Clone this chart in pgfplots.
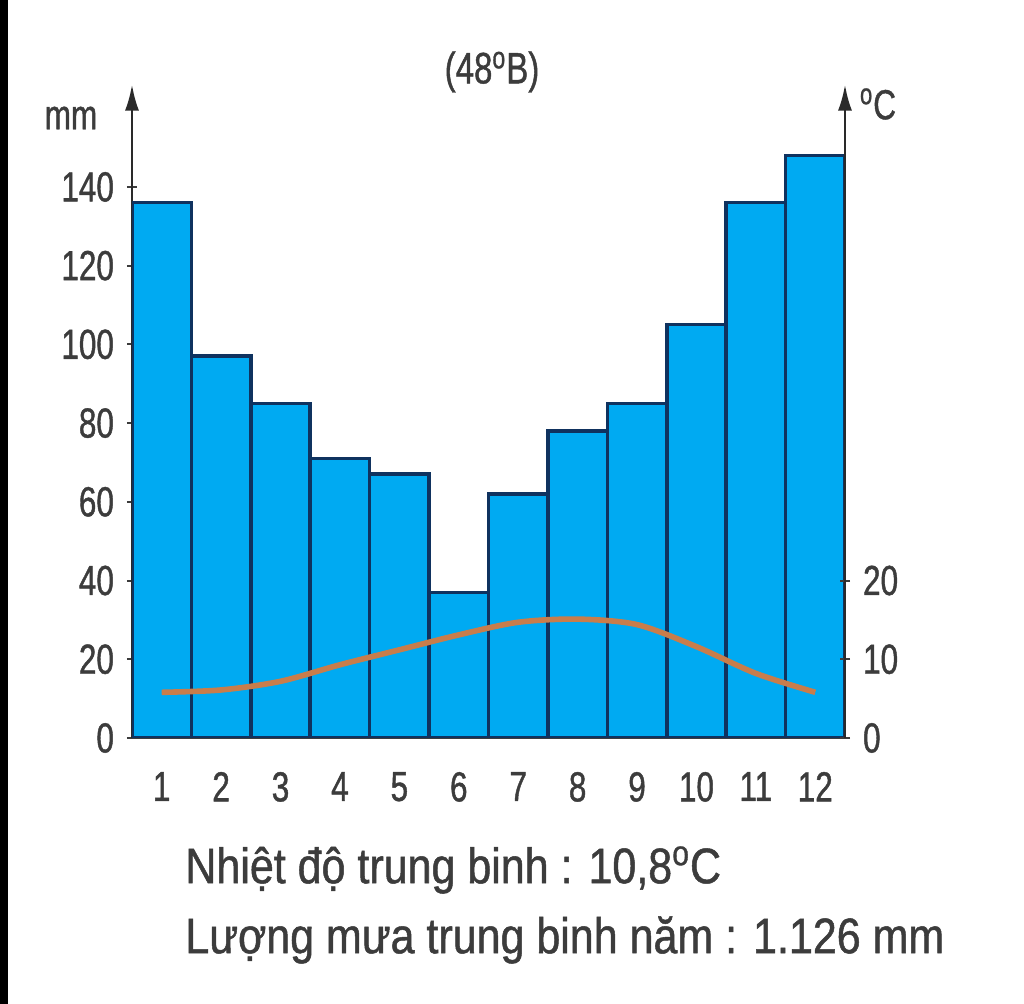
\documentclass[border=0pt]{standalone}
\usepackage{pgfplots}
\pgfplotsset{compat=1.18}
\usepackage{fontspec}
\setmainfont{Liberation Sans}[FakeStretch=0.75,FakeBold=1]
\newfontfamily\wide{Liberation Sans}[FakeStretch=0.86,FakeBold=1]
\usetikzlibrary{arrows.meta}
\definecolor{barblue}{RGB}{0,170,242}
\definecolor{baredge}{RGB}{15,50,95}
\definecolor{txt}{RGB}{60,60,60}
\definecolor{templine}{RGB}{200,125,75}
\pgfplotstableread{
m rain
1 136
2 97
3 85
4 71
5 67
6 37
7 62
8 78
9 85
10 105
11 136
12 148
}\raindata
\pgfplotstableread{
m temp
1 5.8
2 6.1
3 7.2
4 9.3
5 11.2
6 13.1
7 14.7
8 15.1
9 14.4
10 11.6
11 8.2
12 5.8
}\tempdata
\begin{document}
\begin{tikzpicture}[x=0.5pt,y=0.5pt]
\path[use as bounding box] (0,0) rectangle (1024,1004);
\fill[black] (0,0) rectangle (8,1004);
\pgfplotsset{
  every axis/.append style={
    scale only axis, width=356.5pt, height=326.7pt,
    at={(66pt,133pt)}, anchor=origin,
    xmin=0.5, xmax=12.5,
    /pgf/number format/assume math mode=true,
    ticklabel style={text=txt, font=\fontsize{21}{21}\selectfont},
    tick style={draw=txt, line width=1pt},
    major tick length=5pt,
    tick align=outside,
  }
}
\begin{axis}[
  axis x line=bottom, axis y line=left,
  x axis line style={-, draw=txt, line width=1.2pt},
  y axis line style={-{Latex[length=13pt,width=7pt]}, draw=txt!70!black, line width=1.2pt},
  ymin=0, ymax=166,
  ytick={0,20,...,140},
  xtick={1,...,12},
  xtick style={draw=none},
  xticklabel style={yshift=-11pt},
  yticklabel style={xshift=-3pt},
]
\addplot[ybar, bar width=1, bar shift=0pt, fill=barblue, draw=baredge, line width=1.8pt]
  table[x=m,y=rain]{\raindata};
\end{axis}
\begin{axis}[
  axis x line=none, axis y line=right,
  y axis line style={-{Latex[length=13pt,width=7pt]}, draw=txt!70!black, line width=1.2pt},
  ymin=0, ymax=83,
  ytick={0,10,20},
  yticklabel style={xshift=3pt},
]
\addplot[templine, line width=2.8pt, smooth, no marks] table[x=m,y=temp]{\tempdata};
\end{axis}
\node[text=txt, font=\fontsize{21}{21}\selectfont] at (71,886) {mm};
\node[text=txt, font=\fontsize{21}{21}\selectfont] at (878,900) {\textsuperscript{o}C};
\node[text=txt, font=\fontsize{22}{22}\selectfont] at (492,932) {(48\textsuperscript{o}B)};
\node[text=txt, anchor=west, font=\wide\fontsize{25}{25}\selectfont, inner sep=0pt] at (185,134) {Nhiệt độ trung binh : 10,8\textsuperscript{o}C};
\node[text=txt, anchor=west, font=\wide\fontsize{25}{25}\selectfont, inner sep=0pt] at (185,64) {Lượng mưa trung binh năm : 1.126 mm};
\end{tikzpicture}
\end{document}
